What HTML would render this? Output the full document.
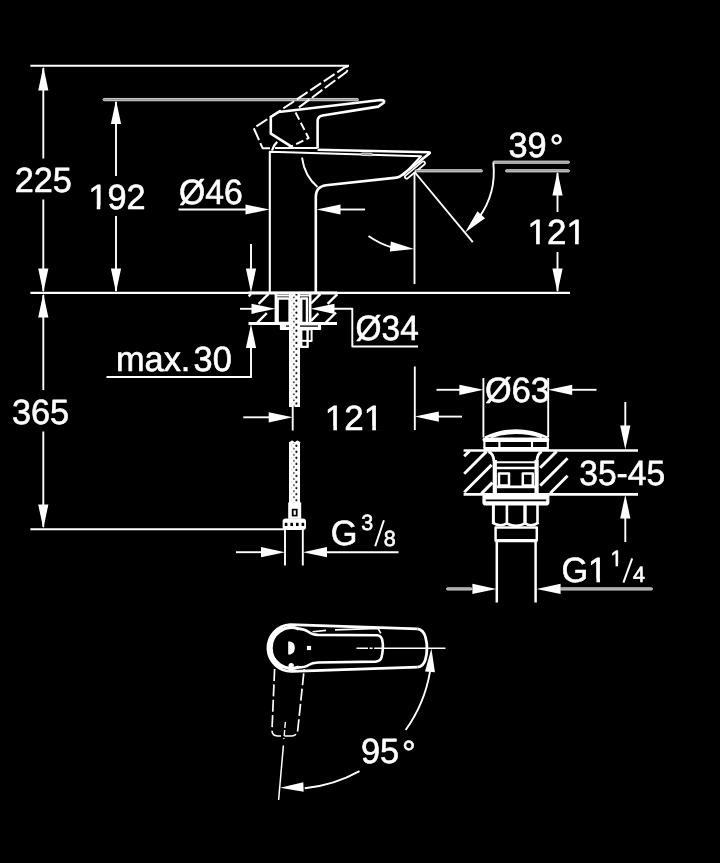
<!DOCTYPE html>
<html lang="en">
<head>
<meta charset="utf-8">
<title>Dimensional drawing</title>
<style>
html,body{margin:0;padding:0;background:#000;}
body{width:720px;height:863px;overflow:hidden;}
svg{display:block;will-change:transform;}
svg text{font-family:"Liberation Sans",Arial,Helvetica,sans-serif;fill:#fff;stroke:#fff;stroke-width:0.6px;stroke-linejoin:round;text-rendering:geometricPrecision;}
svg .f{fill:#fff;stroke:none;}
svg .o{fill:#000;}
svg .dl{fill:#999;stroke:#f4f4f4;stroke-width:0.75;}
svg .dl2{fill:#000;stroke:#fff;stroke-width:1.7;}
</style>
</head>
<body>
<svg width="720" height="863" viewBox="0 0 720 863">
<defs>
<pattern id="dots" x="289" y="293" width="11" height="6.05" patternUnits="userSpaceOnUse">
<rect x="0" y="0" width="11" height="6.05" fill="#fff" stroke="none"/>
<circle cx="7.4" cy="1.5" r="1.05" fill="#000" stroke="none"/>
<circle cx="4.9" cy="4.5" r="0.85" fill="#222" stroke="none"/>
<circle cx="2.7" cy="1.5" r="0.55" fill="#bbb" stroke="none"/>
</pattern>
</defs>
<rect x="0" y="0" width="720" height="863" fill="#000"/>
<g fill="none" stroke="#fff" stroke-linejoin="round" stroke-linecap="butt">
<line x1="30.4" y1="65.7" x2="349" y2="65.7" stroke-width="1.90" />
<rect x="103" y="98.44999999999999" width="255.5" height="2.3" rx="1.15" class="dl"/>
<line x1="30.4" y1="292.9" x2="570" y2="292.9" stroke-width="2.10" />
<line x1="248.5" y1="293" x2="337" y2="293" stroke-width="2.90" />
<line x1="30.4" y1="529.3" x2="284" y2="529.3" stroke-width="1.90" />
<line x1="43.3" y1="68" x2="43.3" y2="158.5" stroke-width="1.90" />
<line x1="43.3" y1="199.5" x2="43.3" y2="291" stroke-width="1.90" />
<polygon class="f" points="43.30,66.50 48.40,90.50 38.20,90.50"/>
<polygon class="f" points="43.30,292.50 38.20,268.50 48.40,268.50"/>
<text transform="translate(43.3,192) scale(0.98,1)" font-size="35" text-anchor="middle" >225</text>
<line x1="116" y1="102" x2="116" y2="176" stroke-width="1.90" />
<line x1="116" y1="216" x2="116" y2="291" stroke-width="1.90" />
<polygon class="f" points="116.00,100.00 121.10,124.00 110.90,124.00"/>
<polygon class="f" points="116.00,292.50 110.90,268.50 121.10,268.50"/>
<text transform="translate(117,209) scale(0.98,1)" font-size="35" text-anchor="middle" >192</text>
<g transform="translate(117,209) scale(0.98,1)" fill="#000" stroke="none"><rect x="-29.90" y="-3.50" width="9.20" height="4.90"/><rect x="-17.00" y="-3.50" width="7.52" height="4.90"/></g>
<line x1="43.3" y1="295" x2="43.3" y2="390" stroke-width="1.90" />
<line x1="43.3" y1="431.5" x2="43.3" y2="527" stroke-width="1.90" />
<polygon class="f" points="43.30,293.50 48.40,317.50 38.20,317.50"/>
<polygon class="f" points="43.30,528.50 38.20,504.50 48.40,504.50"/>
<text transform="translate(40.5,424) scale(0.98,1)" font-size="35" text-anchor="middle" >365</text>
<text transform="translate(179,204.4) scale(0.965,1)" font-size="35" text-anchor="start" >Ø46</text>
<line x1="178.5" y1="209.5" x2="246" y2="209.5" stroke-width="1.90" />
<polygon class="f" points="269.50,209.50 245.50,214.60 245.50,204.40"/>
<polygon class="f" points="316.50,209.50 340.50,204.40 340.50,214.60"/>
<line x1="340" y1="209.5" x2="365" y2="209.5" stroke-width="1.90" />
<line x1="251" y1="244" x2="251" y2="269" stroke-width="1.90" />
<polygon class="f" points="251.00,292.50 245.90,268.50 256.10,268.50"/>
<polygon class="f" points="251.00,324.00 256.10,348.00 245.90,348.00"/>
<line x1="251" y1="347" x2="251" y2="377" stroke-width="1.90" />
<line x1="106.5" y1="377" x2="251.8" y2="377" stroke-width="1.90" />
<text transform="translate(116,371.4) scale(0.98,1)" font-size="35" text-anchor="start" >max.</text>
<text transform="translate(193.6,371.4) scale(0.98,1)" font-size="35" text-anchor="start" >30</text>
<line x1="240" y1="308.8" x2="252" y2="308.8" stroke-width="1.90" />
<polygon class="f" points="275.50,308.80 251.50,313.90 251.50,303.70"/>
<polygon class="f" points="310.50,308.80 334.50,303.70 334.50,313.90"/>
<path d="M333,308.8 H352.3 V346.5 H418" stroke-width="1.90" />
<text transform="translate(355.6,340.4) scale(0.955,1)" font-size="35" text-anchor="start" >Ø34</text>
<path d="M269.8,292 V151.8 L421,156.2 L403,175.4" stroke-width="2.10" />
<path d="M315.8,292 V197 Q315.8,186.6 326,185.2 L396.5,177.6 Q399.6,177.2 402,175 L429.4,153.6 Q430.6,152.4 428.6,152.2 L317.6,149.7" stroke-width="2.60" />
<path d="M302,157.5 Q304.5,176 317.5,187" stroke-width="1.90" />
<rect x="361" y="153" width="11.4" height="2.6" rx="1.3" class="dl" transform="rotate(1.6 366 154)"/>
<rect x="0" y="-1.7" width="25" height="3.4" rx="1.7" class="dl2" transform="translate(405.3,178) rotate(-39.5)"/>
<path d="M272,150.5 Q273.5,145 277.2,141.8" stroke-width="2.20" />
<path d="M275,148 H317.6" stroke-width="2.20" />
<path d="M291.5,146.6 L270.8,133.6 V117 L278.8,112 L380.5,100 Q386,100.2 383.4,103 L378.2,106.6 L322.6,115.5 Q317.6,116.4 317.6,121.4 V148" stroke-width="2.60" />
<path d="M270,148.2 H262.6 L253.8,128.2 L345,67.2 Q350,65.4 348.4,69 L346.4,72 L298.6,107.6" stroke-width="2.00" stroke-dasharray="13 3.2"/>
<path d="M295.6,112.5 L308.6,138 L287.5,148.4" stroke-width="2.00" stroke-dasharray="8 3.5"/>
<line x1="248.5" y1="323.5" x2="337" y2="323.5" stroke-width="2.80" />
<line x1="275.9" y1="293" x2="275.9" y2="323.5" stroke-width="2.60" />
<line x1="310.2" y1="293" x2="310.2" y2="323.5" stroke-width="2.60" />
<line x1="248.7" y1="296.3" x2="251" y2="294" stroke-width="2.40" />
<line x1="258.6" y1="303.9" x2="268.6" y2="293.9" stroke-width="2.40" />
<line x1="257.3" y1="322.7" x2="266.8" y2="313.2" stroke-width="2.40" />
<line x1="311" y1="303.5" x2="320.6" y2="293.9" stroke-width="2.40" />
<line x1="327.6" y1="303.9" x2="337.4" y2="294.1" stroke-width="2.40" />
<line x1="311" y1="320.79999999999995" x2="318.4" y2="313.4" stroke-width="2.40" />
<line x1="325.8" y1="322.7" x2="336" y2="312.5" stroke-width="2.40" />
<rect x="277.6" y="298.4" width="12" height="24.6" class="o" stroke-width="2.5"/>
<rect x="301.2" y="298.4" width="5.8" height="24.6" class="o" stroke-width="2.5"/>
<line x1="276" y1="295.6" x2="310" y2="295.6" stroke-width="1.80" />
<rect x="280.6" y="323.5" width="39.8" height="5.8" class="f" stroke="#fff" stroke-width="1.4" style="stroke:#fff"/>
<line x1="286" y1="326.1" x2="318" y2="326.1" stroke-width="1.30" stroke="#000"/>
<rect x="301.2" y="329.3" width="6.4" height="17.6" class="o" stroke-width="2.4"/>
<line x1="301.2" y1="340.8" x2="307.6" y2="340.8" stroke-width="2.00" />
<path d="M307.6,329.3 H311.6 V341 H307.6" stroke-width="2.00" />
<rect x="289" y="294" width="11" height="113" fill="url(#dots)" stroke="none"/>
<rect x="289" y="442" width="11" height="61" fill="url(#dots)" stroke="none"/>
<path d="M289.4,443 l2.7,-2 l2.7,2 l2.7,-2 l2.7,2" stroke-width="1.20" />
<rect x="288.2" y="502.4" width="13" height="16.4" class="f"/>
<rect x="291.8" y="508.8" width="5.8" height="7.6" fill="#000" stroke="none"/>
<rect x="293.6" y="510.4" width="2.2" height="4.4" class="f"/>
<rect x="282.6" y="518.6" width="23.4" height="11.4" rx="3" class="f"/>
<rect x="284.8" y="522.8" width="2.6" height="3.2" fill="#000" stroke="none"/>
<rect x="290.4" y="522.8" width="2.6" height="3.2" fill="#000" stroke="none"/>
<rect x="296.0" y="522.8" width="2.6" height="3.2" fill="#000" stroke="none"/>
<rect x="301.6" y="522.8" width="2.6" height="3.2" fill="#000" stroke="none"/>
<line x1="285" y1="529" x2="285" y2="565.5" stroke-width="1.90" />
<line x1="302.8" y1="529" x2="302.8" y2="565.5" stroke-width="1.90" />
<line x1="292.7" y1="405.5" x2="292.7" y2="430.5" stroke-width="1.90" />
<line x1="243.3" y1="417.3" x2="270" y2="417.3" stroke-width="1.90" />
<polygon class="f" points="292.70,417.30 268.70,422.40 268.70,412.20"/>
<text transform="translate(324.8,429.5) scale(1.0,1)" font-size="35" text-anchor="start" >121</text>
<g transform="translate(324.8,429.5) scale(1.0,1)" fill="#000" stroke="none"><rect x="-0.70" y="-3.50" width="9.20" height="4.90"/><rect x="12.19" y="-3.50" width="7.52" height="4.90"/><rect x="38.23" y="-3.50" width="9.20" height="4.90"/><rect x="51.12" y="-3.50" width="7.52" height="4.90"/></g>
<line x1="414.8" y1="366.5" x2="414.8" y2="430" stroke-width="1.90" />
<polygon class="f" points="414.80,416.60 438.80,411.50 438.80,421.70"/>
<line x1="437" y1="416.6" x2="462" y2="416.6" stroke-width="1.90" />
<line x1="236" y1="552.2" x2="262" y2="552.2" stroke-width="1.90" />
<polygon class="f" points="285.00,552.20 261.00,557.30 261.00,547.10"/>
<polygon class="f" points="303.00,552.20 327.00,547.10 327.00,557.30"/>
<line x1="326" y1="552.2" x2="398.5" y2="552.2" stroke-width="1.90" />
<text transform="translate(330.8,545.1) scale(0.98,1)" font-size="35" text-anchor="start" >G</text>
<text transform="translate(361.2,529.5) scale(0.98,1)" font-size="22" text-anchor="start" >3</text>
<line x1="375.2" y1="546.2" x2="383.9" y2="520.2" stroke-width="2.00" />
<text transform="translate(383.8,545.6) scale(0.98,1)" font-size="22" text-anchor="start" >8</text>
<line x1="414.5" y1="172" x2="414.5" y2="284" stroke-width="1.90" />
<line x1="415" y1="172.5" x2="472.8" y2="242.2" stroke-width="1.90" />
<rect x="415" y="169.65" width="67.5" height="2.3" rx="1.15" class="dl"/>
<rect x="505.5" y="169.65" width="64.0" height="2.3" rx="1.15" class="dl"/>
<rect x="493" y="161.04999999999998" width="76.5" height="2.3" rx="1.15" class="dl"/>
<path d="M493.3,162.7 A79.3,79.3 0 0 1 478.7,218.0" stroke-width="1.90" />
<polygon class="f" points="465.05,232.50 477.46,211.34 485.00,218.22"/>
<path d="M368.5,236.0 A79.3,79.3 0 0 0 392.6,247.6" stroke-width="1.90" />
<polygon class="f" points="414.20,249.00 389.80,251.56 390.86,241.42"/>
<text transform="translate(508.4,157.2) scale(0.98,1)" font-size="35" text-anchor="start" >39<tspan dx="3.2" dy="1.6">°</tspan></text>
<line x1="557.5" y1="173" x2="557.5" y2="212" stroke-width="1.90" />
<line x1="557.5" y1="252" x2="557.5" y2="291" stroke-width="1.90" />
<polygon class="f" points="557.50,171.60 562.60,195.60 552.40,195.60"/>
<polygon class="f" points="557.50,292.50 552.40,268.50 562.60,268.50"/>
<text transform="translate(527.6,244) scale(1.0,1)" font-size="35" text-anchor="start" >121</text>
<g transform="translate(527.6,244) scale(1.0,1)" fill="#000" stroke="none"><rect x="-0.70" y="-3.50" width="9.20" height="4.90"/><rect x="12.19" y="-3.50" width="7.52" height="4.90"/><rect x="38.23" y="-3.50" width="9.20" height="4.90"/><rect x="51.12" y="-3.50" width="7.52" height="4.90"/></g>
<line x1="483.4" y1="378" x2="483.4" y2="437.5" stroke-width="1.90" />
<line x1="548.2" y1="378" x2="548.2" y2="437.5" stroke-width="1.90" />
<line x1="436.5" y1="389.8" x2="461" y2="389.8" stroke-width="1.90" />
<polygon class="f" points="483.40,389.80 459.40,394.90 459.40,384.70"/>
<polygon class="f" points="548.20,389.80 572.20,384.70 572.20,394.90"/>
<line x1="571" y1="389.8" x2="596.5" y2="389.8" stroke-width="1.90" />
<text transform="translate(485,401.6) scale(0.98,1)" font-size="35" text-anchor="start" >Ø63</text>
<line x1="463.6" y1="450.4" x2="638" y2="450.4" stroke-width="2.50" />
<line x1="463.6" y1="494.4" x2="638" y2="494.4" stroke-width="2.60" />
<line x1="464.2" y1="456.3" x2="469.6" y2="450.9" stroke-width="2.90" />
<line x1="464.2" y1="473.8" x2="486.6" y2="451.4" stroke-width="2.90" />
<line x1="464.2" y1="492.3" x2="491.6" y2="464.9" stroke-width="2.90" />
<line x1="481.4" y1="493.6" x2="492.4" y2="482.6" stroke-width="2.90" />
<line x1="540.2" y1="467.79999999999995" x2="556.6" y2="451.4" stroke-width="2.90" />
<line x1="540.2" y1="485.5999999999999" x2="567.6" y2="458.19999999999993" stroke-width="2.90" />
<line x1="550.2" y1="493.20000000000005" x2="567.6" y2="475.80000000000007" stroke-width="2.90" />
<path d="M485,437.6 Q516,423.4 547.6,437.6 M490.6,437 Q516,428.6 542,437" stroke-width="2.40" />
<rect x="482.4" y="437.4" width="67" height="4.6" rx="2.3" class="f"/>
<line x1="484.4" y1="441" x2="484.4" y2="448" stroke-width="2.20" />
<line x1="547.8" y1="441" x2="547.8" y2="448" stroke-width="2.20" />
<line x1="499.4" y1="441" x2="499.4" y2="448" stroke-width="2.20" />
<line x1="532" y1="441" x2="532" y2="448" stroke-width="2.20" />
<line x1="483.4" y1="448.6" x2="548.8" y2="448.6" stroke-width="3.40" />
<path d="M488.4,451.6 Q493.4,453.4 494,461" stroke-width="2.80" />
<path d="M541.8,451.6 Q537.4,453.4 536.8,461" stroke-width="2.80" />
<line x1="494.8" y1="460" x2="494.8" y2="494" stroke-width="4.20" />
<line x1="536.6" y1="460" x2="536.6" y2="494" stroke-width="4.20" />
<line x1="494" y1="462.2" x2="537" y2="462.2" stroke-width="2.00" />
<line x1="494" y1="468.1" x2="537" y2="468.1" stroke-width="2.50" />
<rect x="499" y="473.4" width="10" height="12" class="o" stroke-width="2.5"/>
<rect x="522.8" y="473.4" width="10" height="12" class="o" stroke-width="2.5"/>
<line x1="497" y1="486.8" x2="535" y2="486.8" stroke-width="2.70" />
<rect x="482.4" y="493.2" width="67" height="12.4" rx="3.4" class="f"/>
<line x1="485.8" y1="500.3" x2="546.2" y2="500.3" stroke-width="1.80" stroke="#000"/>
<line x1="493.4" y1="505" x2="493.4" y2="524" stroke-width="3.00" />
<line x1="506.9" y1="505" x2="506.9" y2="524.6" stroke-width="2.60" />
<line x1="525" y1="505" x2="525" y2="524.6" stroke-width="3.40" />
<line x1="537.5" y1="505" x2="537.5" y2="524" stroke-width="2.60" />
<path d="M492.4,522.6 Q500,527.4 506.9,523.4 Q516,528.4 525,523.4 Q531.4,527.4 538.6,522.6" stroke-width="2.60" />
<rect x="495.6" y="527.4" width="41.2" height="13.2" class="o" stroke-width="2.5"/>
<line x1="495.6" y1="540.6" x2="536.8" y2="540.6" stroke-width="3.40" />
<line x1="496.8" y1="541" x2="496.8" y2="602.5" stroke-width="2.50" />
<line x1="535.6" y1="541" x2="535.6" y2="602.5" stroke-width="2.50" />
<line x1="625.3" y1="402" x2="625.3" y2="427" stroke-width="1.90" />
<polygon class="f" points="625.30,449.60 620.20,425.60 630.40,425.60"/>
<polygon class="f" points="625.30,494.40 630.40,518.40 620.20,518.40"/>
<line x1="625.3" y1="517" x2="625.3" y2="542" stroke-width="1.90" />
<text transform="translate(579.2,485.2) scale(0.96,1)" font-size="35" text-anchor="start" >35-45</text>
<rect x="446.5" y="587.75" width="25.5" height="2.3" rx="1.15" class="dl"/>
<polygon class="f" points="496.40,588.90 472.40,594.00 472.40,583.80"/>
<polygon class="f" points="536.60,588.90 560.60,583.80 560.60,594.00"/>
<rect x="560" y="587.75" width="92.5" height="2.3" rx="1.15" class="dl"/>
<text transform="translate(561.4,582.2) scale(0.98,1)" font-size="35" text-anchor="start" >G1</text>
<g transform="translate(561.4,582.2) scale(0.98,1)" fill="#000" stroke="none"><rect x="26.52" y="-3.50" width="9.20" height="4.90"/><rect x="39.42" y="-3.50" width="7.52" height="4.90"/></g>
<text transform="translate(610.4,566.2) scale(0.98,1)" font-size="22" text-anchor="start" >1</text>
<g transform="translate(610.4,566.2) scale(0.98,1)" fill="#000" stroke="none"><rect x="-0.44" y="-2.20" width="5.67" height="3.08"/><rect x="7.78" y="-2.20" width="4.73" height="3.08"/></g>
<line x1="623.4" y1="582.6" x2="632.2" y2="558.4" stroke-width="2.00" />
<text transform="translate(633,582.4) scale(0.98,1)" font-size="22" text-anchor="start" >4</text>
<path d="M417.6,628.8 Q423.4,629.6 425.4,637 Q428.6,648.3 425.4,659.6 Q423.4,666.4 417.6,667.2" stroke-width="2.80" />
<path d="M417.6,628.8 L290.2,624.7 A23.3,23.3 0 1 0 292.2,671.3 L417.6,667.2" stroke-width="2.70" />
<path d="M283.11,627.97 A21.6,21.6 0 0 0 283.11,668.03" stroke-width="3.6"/>
<path d="M298.7,628.9 A20.4,20.4 0 1 0 298.7,667.1" stroke-width="3.20" />
<path d="M298.2,628.6 Q305,629.2 308.6,632 Q312,634.7 318,634.9 L377.6,635.2 Q381.8,635.6 382.6,642 Q383.6,648.3 381.6,657 Q380.6,661.2 375.6,661.6 L318,662.5 Q312,662.8 308.6,665 Q305,667.4 298.2,667.4" stroke-width="2.60" />
<path d="M312.5,631.8 L326,630.4 M335,629.9 L378,628.4 L380.8,633.4" stroke-width="1.60" />
<path d="M288.2,641.6 H290.2 Q294.8,642.6 294.8,648 Q294.8,653.4 290.2,654.4 H288.2 Z" stroke-width="1.00" class="f"/>
<rect x="306.9" y="645.9" width="4.2" height="4.2" class="f"/>
<circle cx="291.2" cy="665.6" r="2.7" class="f"/>
<line x1="356.5" y1="648.3" x2="445.5" y2="648.3" stroke-width="1.50" stroke-dasharray="11.5 1.6 3 1.6 400"/>
<path d="M274.6,669 L272,729.6 Q271.8,735.8 277.4,736 H291.6 Q297.2,736 297.8,729.6 L304.2,669" stroke-width="1.70" stroke-dasharray="12 3.4"/>
<path d="M285.4,722 L283.9,739" stroke-width="1.40" stroke-dasharray="6 2"/>
<line x1="283.4" y1="745.5" x2="278.6" y2="800" stroke-width="1.50" />
<path d="M430.1,671.2 A140.8,140.8 0 0 1 405.7,730.0" stroke-width="1.90" />
<polygon class="f" points="431.40,648.40 434.96,672.16 424.97,671.55"/>
<path d="M359.5,771.1 A140.8,140.8 0 0 1 304.7,788.2" stroke-width="1.90" />
<polygon class="f" points="280.00,787.80 303.32,782.18 303.65,791.78"/>
<text transform="translate(361,763.2) scale(0.98,1)" font-size="35" text-anchor="start" >95<tspan dx="2.8" dy="1.6">°</tspan></text>
</g>
</svg>
</body>
</html>
